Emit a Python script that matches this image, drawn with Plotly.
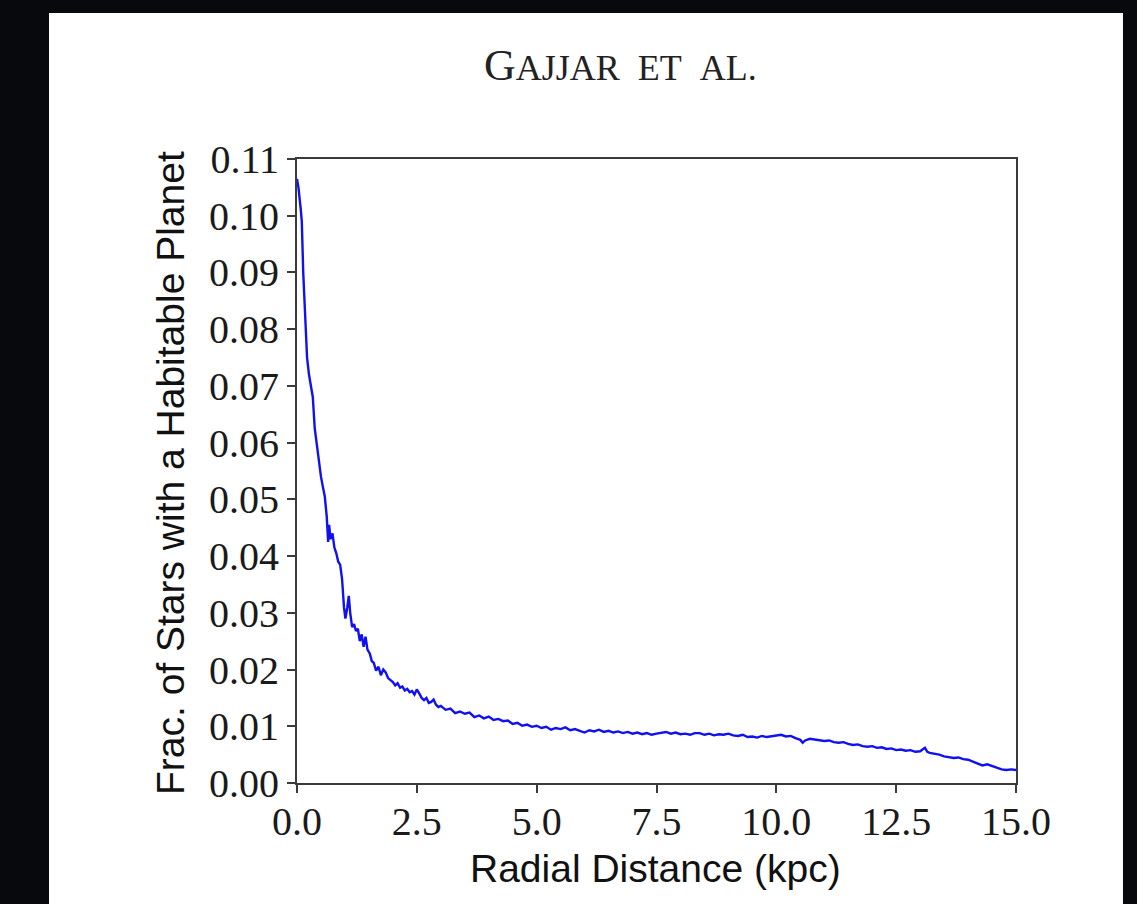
import plotly.graph_objects as go

# ---- data ----
radial_kpc = [
    0.00, 0.03, 0.08, 0.10, 0.13, 0.17, 0.21, 0.25, 0.29, 0.33, 0.37, 0.42, 0.46, 0.50,
    0.54, 0.58, 0.62, 0.65, 0.67, 0.70, 0.74, 0.78, 0.82, 0.86, 0.90, 0.94, 0.98, 1.01,
    1.05, 1.08, 1.11, 1.15, 1.19, 1.23, 1.27, 1.31, 1.35, 1.39, 1.43, 1.47, 1.52, 1.56,
    1.60, 1.65, 1.70, 1.75, 1.80, 1.85, 1.90, 1.95, 2.00, 2.05, 2.10, 2.15, 2.20, 2.25,
    2.30, 2.35, 2.40, 2.45, 2.50, 2.55, 2.60, 2.65, 2.70, 2.75, 2.80, 2.85, 2.90, 2.95,
    3.00, 3.10, 3.20, 3.30, 3.40, 3.50, 3.60, 3.70, 3.80, 3.90, 4.00, 4.10, 4.20, 4.30,
    4.40, 4.50, 4.60, 4.70, 4.80, 4.90, 5.00, 5.10, 5.20, 5.30, 5.40, 5.50, 5.60, 5.70,
    5.80, 5.90, 6.00, 6.10, 6.20, 6.30, 6.40, 6.50, 6.60, 6.70, 6.80, 6.90, 7.00, 7.10,
    7.20, 7.30, 7.40, 7.50, 7.60, 7.70, 7.80, 7.90, 8.00, 8.10, 8.20, 8.30, 8.40, 8.50,
    8.60, 8.70, 8.80, 8.90, 9.00, 9.10, 9.20, 9.30, 9.40, 9.50, 9.60, 9.70, 9.80, 9.90,
    10.00, 10.10, 10.20, 10.30, 10.40, 10.50, 10.55, 10.60, 10.70, 10.80, 10.90, 11.00,
    11.10, 11.20, 11.30, 11.40, 11.50, 11.60, 11.70, 11.80, 11.90, 12.00, 12.10, 12.20,
    12.30, 12.40, 12.50, 12.60, 12.70, 12.80, 12.90, 13.00, 13.10, 13.15, 13.20, 13.30,
    13.40, 13.50, 13.60, 13.70, 13.80, 13.90, 14.00, 14.10, 14.20, 14.30, 14.40, 14.50,
    14.60, 14.70, 14.80, 14.90, 15.00,
]
frac_habitable = [
    0.1065, 0.1050, 0.1010, 0.0990, 0.0900, 0.0820, 0.0750, 0.0720, 0.0700, 0.0680, 0.0625, 0.0590, 0.0565, 0.0540,
    0.0522, 0.0505, 0.0470, 0.0425, 0.0455, 0.0430, 0.0440, 0.0415, 0.0405, 0.0390, 0.0385, 0.0360, 0.0310, 0.0290,
    0.0310, 0.0330, 0.0300, 0.0275, 0.0280, 0.0268, 0.0272, 0.0250, 0.0262, 0.0240, 0.0258, 0.0235, 0.0228, 0.0215,
    0.0212, 0.0198, 0.0205, 0.0190, 0.0200, 0.0195, 0.0185, 0.0182, 0.0178, 0.0172, 0.0176, 0.0168, 0.0170, 0.0163,
    0.0166, 0.0160, 0.0162, 0.0156, 0.0165, 0.0158, 0.0150, 0.0146, 0.0150, 0.0141, 0.0143, 0.0147, 0.0138, 0.0134,
    0.0136, 0.0129, 0.0131, 0.0123, 0.0126, 0.0122, 0.0124, 0.0116, 0.0119, 0.0114, 0.0117, 0.0111, 0.0113, 0.0109,
    0.0110, 0.0104, 0.0106, 0.0101, 0.0103, 0.0099, 0.0101, 0.0097, 0.0099, 0.0094, 0.0097, 0.0095, 0.0098, 0.0093,
    0.0095, 0.0092, 0.0089, 0.0093, 0.0091, 0.0094, 0.0090, 0.0092, 0.0089, 0.0091, 0.0088, 0.0090, 0.0087, 0.0089,
    0.0086, 0.0088, 0.0085, 0.0087, 0.0088, 0.0090, 0.0087, 0.0089, 0.0086, 0.0087, 0.0085, 0.0088, 0.0088, 0.0085,
    0.0087, 0.0084, 0.0086, 0.0085, 0.0087, 0.0084, 0.0083, 0.0085, 0.0081, 0.0082, 0.0080, 0.0083, 0.0081, 0.0082,
    0.0084, 0.0085, 0.0082, 0.0083, 0.0079, 0.0076, 0.0071, 0.0075, 0.0078, 0.0077, 0.0076, 0.0074,
    0.0075, 0.0072, 0.0071, 0.0072, 0.0069, 0.0067, 0.0068, 0.0065, 0.0064, 0.0065, 0.0062, 0.0063,
    0.0060, 0.0061, 0.0058, 0.0059, 0.0057, 0.0058, 0.0055, 0.0056, 0.0062, 0.0055, 0.0053, 0.0052,
    0.0050, 0.0047, 0.0046, 0.0044, 0.0045, 0.0042, 0.0041, 0.0038, 0.0034, 0.0031, 0.0033, 0.0030,
    0.0026, 0.0024, 0.0023, 0.0024, 0.0023,
]
x_ticks = [0.0, 2.5, 5.0, 7.5, 10.0, 12.5, 15.0]
y_ticks = [0.00, 0.01, 0.02, 0.03, 0.04, 0.05, 0.06, 0.07, 0.08, 0.09, 0.10, 0.11]

header_text = ('G<span style="font-size:36px">AJJAR\u00a0\u00a0ET\u00a0\u00a0AL.</span>')
x_title = "Radial Distance (kpc)"
y_title = "Frac. of Stars with a Habitable Planet"

fig = go.Figure()
fig.add_trace(go.Scatter(
    x=radial_kpc, y=frac_habitable, mode="lines",
    line=dict(color="#1010f0", width=2.4), showlegend=False, hoverinfo="skip",
))

axis_common = dict(
    showgrid=False, zeroline=False, showline=True, linecolor="#3a3a3a", linewidth=2,
    mirror=True, ticks="outside", ticklen=8, tickwidth=2, tickcolor="#3a3a3a",
    tickfont=dict(family="Liberation Serif", size=40, color="#1a1a1a"),
)
fig.update_xaxes(range=[0, 15], tickvals=x_ticks, tickformat=".1f",
                 ticklabelstandoff=-6, **axis_common)
fig.update_yaxes(range=[0, 0.11], tickvals=y_ticks, tickformat=".2f",
                 ticklabelstandoff=0, **axis_common)

# white page panel behind the chart
fig.add_shape(type="rect", xref="paper", yref="paper",
              x0=-0.3449, x1=1.1488, y0=-0.30, y1=1.2340,
              fillcolor="white", line=dict(width=0), layer="below")

fig.add_annotation(text=header_text, xref="paper", yref="paper", x=0.4506, y=1.1506,
                   showarrow=False, xanchor="center", yanchor="middle",
                   font=dict(family="Liberation Serif", size=44, color="#222222"))
fig.add_annotation(text=x_title, xref="paper", yref="paper", x=0.4993, y=-0.1378,
                   showarrow=False, xanchor="center", yanchor="middle",
                   font=dict(family="Liberation Sans", size=39, color="#111111"))
fig.add_annotation(text=y_title, xref="paper", yref="paper", x=-0.1752, y=0.4968,
                   showarrow=False, xanchor="center", yanchor="middle", textangle=-90,
                   font=dict(family="Liberation Sans", size=39, color="#111111"))

fig.update_layout(
    width=1137, height=904,
    margin=dict(l=297, r=121, t=159, b=121, pad=0),
    paper_bgcolor="#07090d", plot_bgcolor="white",
)

fig.write_html("out.html")
